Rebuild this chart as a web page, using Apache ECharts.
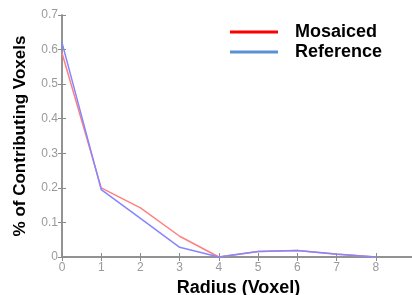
<!DOCTYPE html>
<html>
<head>
<meta charset="utf-8">
<script src="https://cdn.jsdelivr.net/npm/echarts@6/dist/echarts.min.js"></script>
<style>
  html, body { margin: 0; padding: 0; background: #fff; }
  #chart { width: 412px; height: 295px; }
</style>
</head>
<body>
<div id="chart"></div>
<script>
// 半径 (voxel)
const radius = [0, 1, 2, 3, 4, 5, 6, 7, 8];
// 两条曲线
const mosaiced = [0.59, 0.20, 0.142, 0.06, 0.0, 0.016, 0.019, 0.009, 0.0];
const reference = [0.62, 0.195, 0.112, 0.028, 0.0, 0.016, 0.019, 0.008, 0.0];
const yTicks = [0, 0.1, 0.2, 0.3, 0.4, 0.5, 0.6, 0.7];

const chart = echarts.init(document.getElementById('chart'));

const axisGray = '#8c8c8c';
const labelGray = '#9a9a9a';

const option = {
    animation: false,
    textStyle: { fontFamily: 'Liberation Sans' },
    grid: { left: 62, top: 15, width: 353, height: 242, outerBoundsMode: 'none', containLabel: false },
    legend: {
        left: 225,
        top: 18,
        orient: 'vertical',
        itemWidth: 48,
        itemHeight: 3,
        itemGap: 2,
        icon: 'rect',
        textStyle: {
            fontSize: 18,
            fontWeight: 'bold',
            color: '#000',
            padding: [0, 0, 0, 12]
        },
        data: [
            { name: 'Mosaiced', itemStyle: { color: '#ff0000' } },
            { name: 'Reference', itemStyle: { color: '#5b8fd6' } }
        ]
    },
    xAxis: [{
        type: 'value',
        min: 0,
        max: 9,
        interval: 1,
        name: 'Radius (Voxel)',
        nameLocation: 'middle',
        nameGap: 21,
        nameTextStyle: { fontSize: 18, fontWeight: 'bold', color: '#000' },
        axisLine: { onZero: false, lineStyle: { color: axisGray, width: 1.5 } },
        axisTick: { inside: true, length: 4, lineStyle: { color: axisGray } },
        axisLabel: { color: labelGray, fontSize: 12, margin: 5 },
        splitLine: { show: false }
    }, {
        type: 'value',
        position: 'top',
        min: 0,
        max: 9,
        interval: 1,
        axisLine: { lineStyle: { color: axisGray, width: 1.5 } },
        axisTick: { inside: true, length: 4, lineStyle: { color: axisGray } },
        axisLabel: { show: false },
        splitLine: { show: false }
    }],
    yAxis: [{
        type: 'value',
        min: 0,
        max: 0.7,
        interval: 0.1,
        name: '% of Contributing Voxels',
        nameLocation: 'middle',
        nameGap: 33,
        nameTextStyle: { fontSize: 17, fontWeight: 'bold', color: '#000' },
        axisLine: { show: true, onZero: false, lineStyle: { color: axisGray, width: 1.5 } },
        axisTick: { show: true, inside: true, length: 4, lineStyle: { color: axisGray } },
        axisLabel: {
            color: labelGray, fontSize: 12, margin: 4,
            formatter: v => yTicks.some(t => Math.abs(t - v) < 1e-9) ? String(+v.toFixed(1)) : ''
        },
        splitLine: { show: false }
    }, {
        type: 'value',
        position: 'right',
        min: 0,
        max: 0.7,
        interval: 0.1,
        axisLine: { show: true, lineStyle: { color: axisGray, width: 1.5 } },
        axisTick: { show: true, inside: true, length: 4, lineStyle: { color: axisGray } },
        axisLabel: { show: false },
        splitLine: { show: false }
    }],
    series: [
        {
            name: 'Mosaiced',
            type: 'line',
            data: radius.map((r, i) => [r, mosaiced[i]]),
            symbol: 'none',
            lineStyle: { color: '#ff8080', width: 1.5 },
            itemStyle: { color: '#ff8080' },
            z: 2
        },
        {
            name: 'Reference',
            type: 'line',
            data: radius.map((r, i) => [r, reference[i]]),
            symbol: 'none',
            lineStyle: { color: '#8585ff', width: 1.5 },
            itemStyle: { color: '#8585ff' },
            z: 3
        }
    ]
};

chart.setOption(option);
</script>
</body>
</html>
